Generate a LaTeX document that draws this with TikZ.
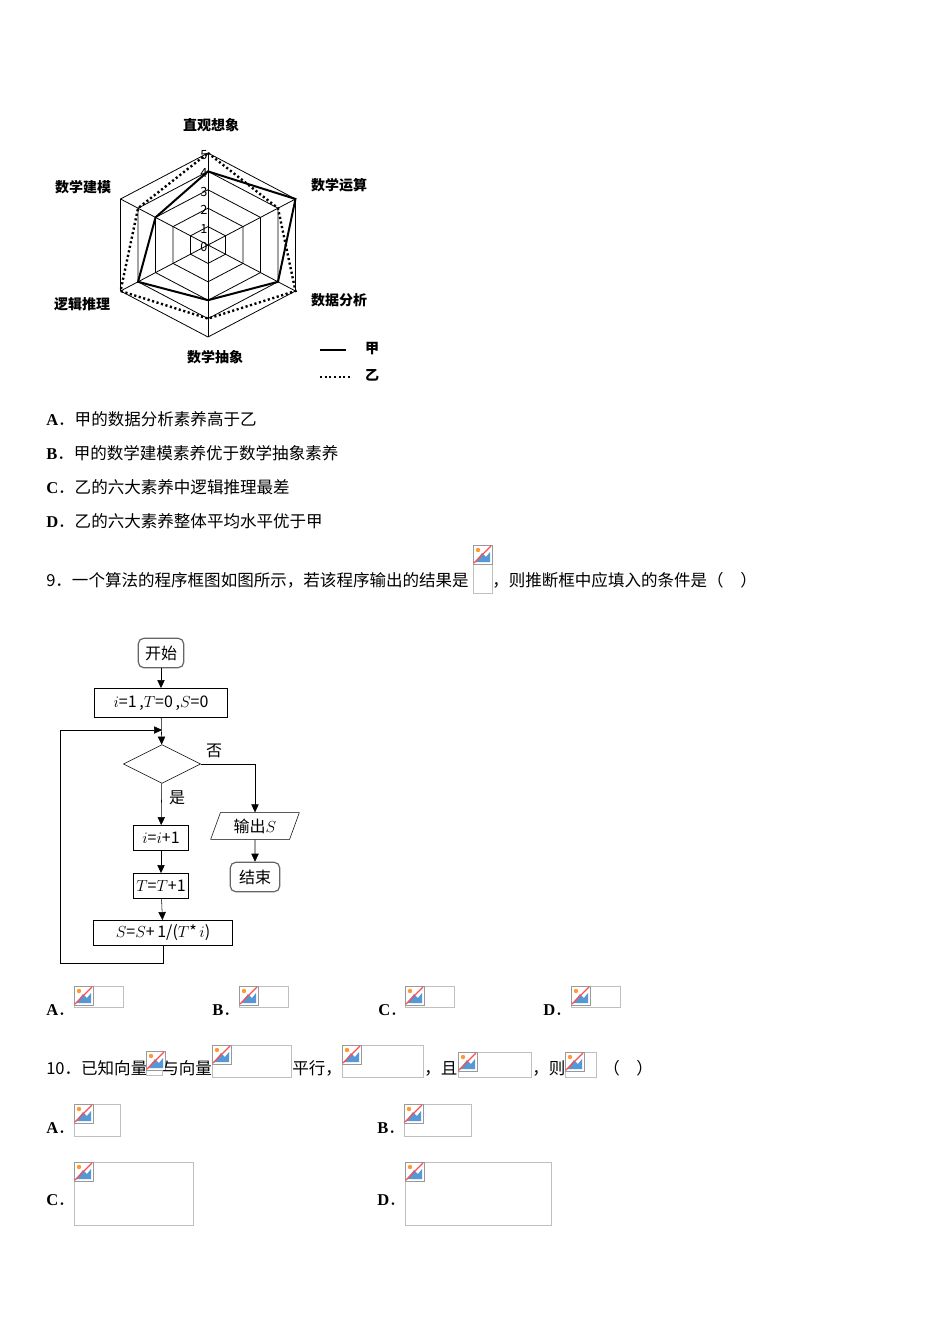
\documentclass[tikz,border=0pt]{standalone}
\usepackage{fontspec}
\setmainfont{Noto Sans CJK SC}
\newfontfamily\lat{Liberation Serif}
\usetikzlibrary{shapes.geometric,arrows.meta}
\begin{document}
\begin{tikzpicture}[x=0.75pt,y=-0.75pt,
 txt/.style={anchor=base west,inner sep=0,font=\fontsize{12.4}{14}\selectfont},
 lab/.style={inner sep=0,font=\fontsize{10.5}{12}\selectfont\bfseries},
 ph/.style={draw=black!25,line width=0.5pt},
 box/.style={draw,thin,inner sep=2pt,font=\fontsize{12}{14}\selectfont},
 rbox/.style={box,rounded corners=4pt,draw=black!60,line width=0.9pt,minimum width=34pt,minimum height=22pt},
 arr/.style={-{Triangle[length=6pt,width=5.5pt]},thin},
 dots/.style={line width=1.8pt,dash pattern=on 1.6pt off 1.9pt}]
\useasboundingbox (0,0) rectangle (950,1344);
\newcommand\icon[2]{%
 \fill[white] (#1,#2) rectangle ++(19,19);
 \draw[black!40,line width=0.4pt] (#1,#2) rectangle ++(19,19);
 \fill[orange!80] (#1+5,#2+5) circle (2.2);
 \fill[cyan!60!blue!70] (#1+2,#2+17) -- (#1+9,#2+8) -- (#1+13,#2+12) -- (#1+17,#2+7) -- (#1+17,#2+17) -- cycle;
 \draw[red!70,line width=0.9pt] (#1+1,#2+18) -- (#1+18,#2+1);}
\newcommand\phbox[4]{\draw[ph] (#1,#2) rectangle (#3,#4); \icon{#1}{#2}}
% radar
\def\R(#1,#2){({208+20.2*#1*cos(#2)},{245-18.4*#1*sin(#2)})}
\foreach \v in {1,...,5}{
 \draw[line width=0.6pt] \R(\v,90) -- \R(\v,30) -- \R(\v,-30) -- \R(\v,-90) -- \R(\v,210) -- \R(\v,150) -- cycle;}
\foreach \a in {90,30,-30,-90,210,150}{\draw[line width=0.6pt] \R(0,0) -- \R(5,\a);}
\draw[line width=1.5pt] \R(4,90) -- \R(5,30) -- \R(4,-30) -- \R(3,-90) -- \R(4,210) -- \R(3,150) -- cycle;
\draw[dots] \R(5,90) -- \R(4,30) -- \R(5,-30) -- \R(4,-90) -- \R(5,210) -- \R(4,150) -- cycle;
\foreach \v in {0,...,5}{\node[inner sep=0,font=\fontsize{9.5}{10}\selectfont] (t\v) at ({204},{247-18.4*\v}) {\v};}
\node[lab] (l1) at (211,125) {直观想象};
\node[lab] (l2) at (339,185) {数学运算};
\node[lab] (l3) at (339,300) {数据分析};
\node[lab] (l4) at (215,357) {数学抽象};
\node[lab] (l5) at (82,304) {逻辑推理};
\node[lab] (l6) at (83,187) {数学建模};
\coordinate (g1) at (320,350); \coordinate (g2) at (346,350);
\coordinate (g3) at (320,377); \coordinate (g4) at (350,377);
\draw[line width=2.2pt] (g1) -- (g2);
\draw[dots] (g3) -- (g4);
\node[lab] (j) at (372,349) {甲};
\node[lab] (y) at (372,375) {乙};
% options
\node[txt] (oa) at (46,425) {{\lat\bfseries A}．甲的数据分析素养高于乙};
\node[txt] (ob) at (46,459) {{\lat\bfseries B}．甲的数学建模素养优于数学抽象素养};
\node[txt] (oc) at (46,493) {{\lat\bfseries C}．乙的六大素养中逻辑推理最差};
\node[txt] (od) at (46,527) {{\lat\bfseries D}．乙的六大素养整体平均水平优于甲};
\node[txt] (q9a) at (46,586) {9．一个算法的程序框图如图所示，若该程序输出的结果是};
\phbox{473}{545}{492}{593}
\node[txt] (q9b) at (492,586) {，则推断框中应填入的条件是（　）};
% flowchart
\node[rbox] (st) at (161,653) {开始};
\node[box,minimum width=100pt,minimum height=22pt] (in) at (161,703) {$i$=1\,,$T$=0\,,$S$=0};
\node[diamond,draw,thin,minimum width=58pt,minimum height=29pt,aspect=2.6,inner sep=0] (dm) at (162,764) {};
\node[box,minimum width=41pt,minimum height=19pt] (b1) at (161,838) {$i$=$i$+1};
\node[box,minimum width=41pt,minimum height=19pt] (b2) at (161,886) {$T$=$T$+1};
\node[box,minimum width=104pt,minimum height=19pt] (b3) at (163,933) {$S$=$S$+\,1/($T$*\,$i$)};
\node[trapezium,trapezium left angle=70,trapezium right angle=110,draw,thin,minimum width=62pt,minimum height=20pt,inner sep=1pt,font=\fontsize{12}{14}\selectfont] (out) at (255,826) {输出$S$};
\node[rbox,minimum width=37pt] (en) at (255,877) {结束};
\draw[arr] (st) -- (in);
\draw[arr] (in) -- (dm);
\draw[arr] (dm) -- (b1);
\draw[arr] (b1) -- (b2);
\draw[arr] (b2) -- (b3);
\draw[arr] (dm.east) -| (out.north);
\draw[arr] (out) -- (en);
\coordinate (lp) at (162,730);
\draw[arr] (b3.south) -- (163,963) -- (60,963) -- (60,730) -- (lp);
\node[inner sep=0,font=\fontsize{12}{14}\selectfont] (no) at (214,751) {否};
\node[inner sep=0,font=\fontsize{12}{14}\selectfont] (yes) at (177,798) {是};
% answers 9
\node[txt] (a9) at (46,1015) {{\lat\bfseries A}．}; \phbox{74}{986}{123}{1007}
\node[txt] (b9) at (212,1015) {{\lat\bfseries B}．}; \phbox{239}{986}{288}{1007}
\node[txt] (c9) at (378,1015) {{\lat\bfseries C}．}; \phbox{405}{986}{454}{1007}
\node[txt] (d9) at (543,1015) {{\lat\bfseries D}．}; \phbox{571}{986}{620}{1007}
% question 10
\node[txt] (q10) at (46,1074) {10．已知向量}; \phbox{146}{1051}{162}{1075}
\node[txt] (q10b) at (162,1074) {与向量}; \phbox{212}{1045}{291}{1077}
\node[txt] (q10c) at (292,1074) {平行，}; \phbox{342}{1045}{423}{1077}
\node[txt] (q10d) at (424,1074) {，且}; \phbox{458}{1052}{531}{1077}
\node[txt] (q10e) at (532,1074) {，则}; \phbox{565}{1052}{596}{1077}
\node[txt] (q10f) at (603,1074) {（　）};
\node[txt] (a10) at (46,1133) {{\lat\bfseries A}．}; \phbox{74}{1104}{120}{1136}
\node[txt] (b10) at (377,1133) {{\lat\bfseries B}．}; \phbox{404}{1104}{471}{1136}
\node[txt] (c10) at (46,1205) {{\lat\bfseries C}．}; \phbox{74}{1162}{193}{1225}
\node[txt] (d10) at (377,1205) {{\lat\bfseries D}．}; \phbox{405}{1162}{551}{1225}
\end{tikzpicture}
\end{document}
